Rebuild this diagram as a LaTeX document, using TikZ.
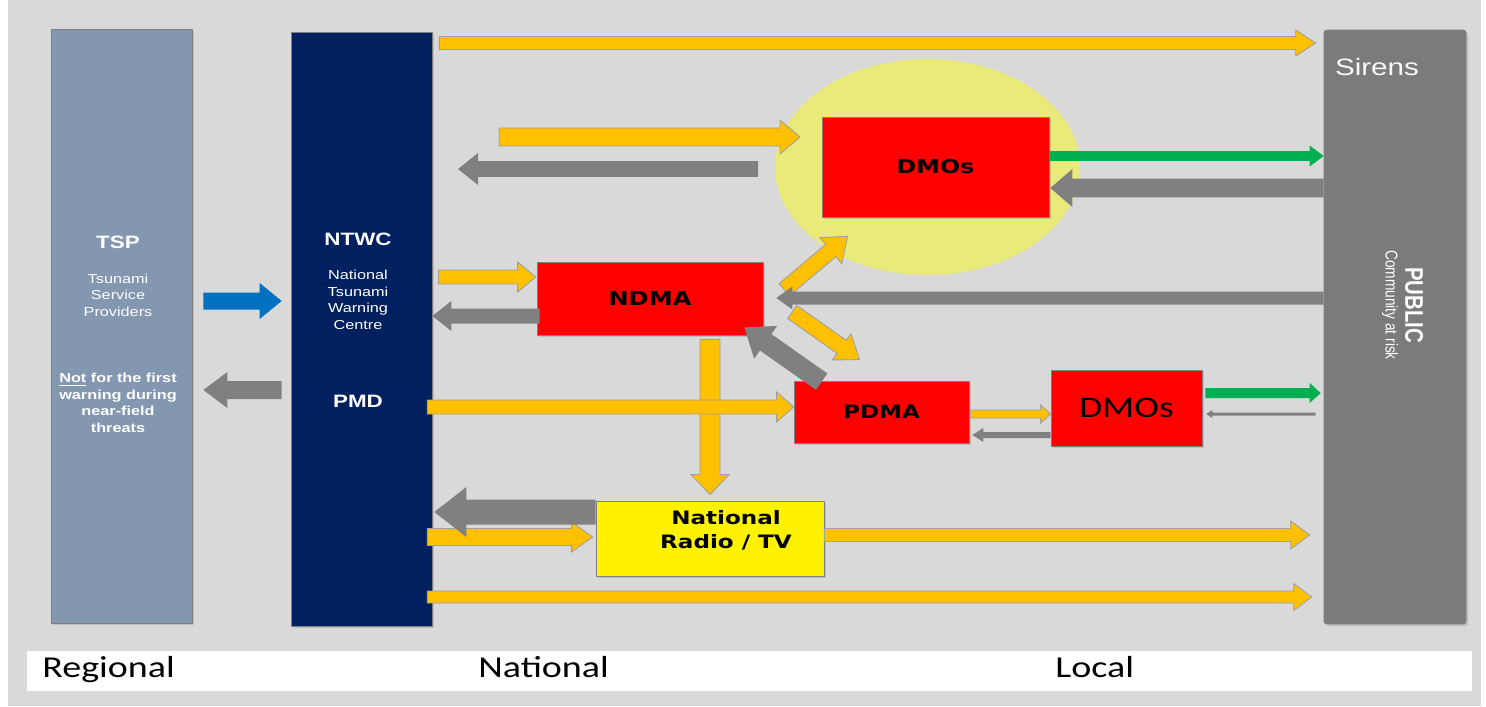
\documentclass[tikz,border=0pt]{standalone}
\usepackage{fontspec}
\setmainfont{Liberation Sans}[FakeStretch=1.25]
\newfontfamily\heavyfont{DejaVu Sans}[FakeStretch=1.25]
\newfontfamily\calfont{Carlito}[FakeStretch=1.25]
\newfontfamily\uprightfont{Liberation Sans}
\usepackage{graphicx}
\usepackage{xcolor}
\usetikzlibrary{calc,shadows}

\definecolor{bggrey}{HTML}{D9D9D9}
\definecolor{tspblue}{HTML}{8497B0}
\definecolor{ntwcblue}{HTML}{002060}
\definecolor{pubgrey}{HTML}{7B7B7B}
\definecolor{halo}{HTML}{EAEA7A}
\definecolor{amber}{HTML}{FFC000}
\definecolor{arrgrey}{HTML}{808080}
\definecolor{leaf}{HTML}{00B050}
\definecolor{sea}{HTML}{0070C0}
\definecolor{edgegrey}{HTML}{A0A0A0}

\tikzset{
  col/.style={draw=gray, line width=0.4pt, inner sep=0pt,
    drop shadow={shadow xshift=1.2pt, shadow yshift=-1.2pt, opacity=0.3}},
  agency/.style={col, fill=red, font=\heavyfont\bfseries\fontsize{11}{13}\selectfont},
  coltitle/.style={text=white, font=\bfseries\fontsize{10.2}{12}\selectfont},
  colsub/.style={text=white, align=center, font=\fontsize{7.4}{9.4}\selectfont},
  colnote/.style={text=white, align=center, font=\bfseries\fontsize{7.4}{9.5}\selectfont},
  scalelbl/.style={anchor=base west, inner sep=0pt, font=\calfont\fontsize{17.3}{20}\selectfont},
  % block arrows: shaft width, head width, head length (px)
  blk/.style n args={3}{to path={
    let \p1=(\tikztostart), \p2=(\tikztotarget),
        \n1={atan2(\y2-\y1,\x2-\x1)},
        \n2={veclen(\x2-\x1,\y2-\y1)} in
    [shift={(\p1)}, rotate=\n1]
    (0pt,{#1*0.2845pt}) -- ({\n2-#3*0.569pt},{#1*0.2845pt})
    -- ({\n2-#3*0.569pt},{#2*0.2845pt}) -- ({\n2},0pt)
    -- ({\n2-#3*0.569pt},{-#2*0.2845pt}) -- ({\n2-#3*0.569pt},{-#1*0.2845pt})
    -- (0pt,{-#1*0.2845pt}) -- cycle}},
  oarr/.style={fill=amber, draw=edgegrey, line width=0.5pt},
  garr/.style={fill=arrgrey},
  lfarr/.style={fill=leaf},
  bluarr/.style={fill=sea},
}

\begin{document}
\begin{tikzpicture}[x=0.02cm, y=-0.02cm]
% Canvas
\useasboundingbox (0,0) rectangle (1486,706);
\fill[white] (0,0) rectangle (1486,706);
\fill[bggrey] (8,0) rectangle (1481,706);

% Columns
\node[col, fill=tspblue, minimum width=2.82cm, minimum height=11.88cm] (tsp) at (121.5,326) {};
\node[col, fill=ntwcblue, minimum width=2.82cm, minimum height=11.88cm] (ntwc) at (361.5,329) {};
\node[col, fill=pubgrey, rounded corners=1.5pt, minimum width=2.84cm, minimum height=11.88cm] (public) at (1395,327) {};

\node[coltitle] (tsptitle) at (118,242) {TSP};
\node[colsub] (tspsub) at (118,295) {Tsunami\\Service\\Providers};
\node[colnote] (tspnote) at (118,403) {\underline{Not} for the first\\warning during\\near-field\\threats};
\node[coltitle] (ntwctitle) at (358,239) {NTWC};
\node[colsub] (ntwcsub) at (358,300) {National\\Tsunami\\Warning\\Centre};
\node[coltitle] (pmd) at (358,401) {PMD};
\node[text=white!95!gray, font=\fontsize{13.5}{16}\selectfont] (sirens) at (1377,67) {Sirens};
\node[rotate=-90, text=white, font=\uprightfont\bfseries\fontsize{11.6}{14}\selectfont] (pubtitle) at (1414,305) {\scalebox{1}[1.25]{PUBLIC}};
\node[rotate=-90, text=white, font=\uprightfont\fontsize{7.8}{9}\selectfont] (pubsub) at (1390,305) {\scalebox{1}[1.25]{Community at risk}};

% Local level
\fill[halo] (927.5,167) ellipse [x radius=152.5, y radius=108];
\node[agency, minimum width=4.54cm, minimum height=2cm, font=\heavyfont\bfseries\fontsize{10.8}{13}\selectfont] (dmos) at (935.5,167) {DMOs};
\node[agency, minimum width=4.52cm, minimum height=1.46cm] (ndma) at (650,298.5) {NDMA};
\node[agency, minimum width=3.5cm, minimum height=1.24cm, font=\heavyfont\bfseries\fontsize{10.5}{13}\selectfont] (pdma) at (881.5,412) {PDMA};
\node[agency, minimum width=3.02cm, minimum height=1.52cm, font=\calfont\fontsize{17}{20}\selectfont] (dmoslocal) at (1126.5,408) {DMOs};
\node[col, fill=yellow, minimum width=4.56cm, minimum height=1.5cm] (radio) at (710,538.5) {};
\node[align=center, font=\heavyfont\bfseries\fontsize{10.5}{13.8}\selectfont] (radiolbl) at (726,530) {National\\Radio / TV};

% Free ends
\coordinate (asktail) at (499,137);
\coordinate (asktip) at (800,137);
\coordinate (backtail) at (758,169);
\coordinate (backtip) at (458,169);

% Orange arrows
\path[oarr, blk={13}{26}{20}] ($(ntwc.east|-0,43)+(7,0)$) to ($(public.west|-0,43)+(-8,0)$);
\path[oarr, blk={18}{34}{20}] (asktail) to (asktip);
\path[oarr, blk={14}{30}{18}] ($(ntwc.east|-0,277)+(6,0)$) to ($(ndma.west|-0,277)+(-1,0)$);
\path[oarr, blk={20}{38}{20}] ($(ndma.south-|710,0)+(0,4)$) to ($(radio.north-|710,0)+(0,-6)$);
\path[oarr, blk={14}{30}{17}] ($(ntwc.east|-0,407)+(-5,0)$) to (pdma.west|-0,407);
\path[oarr, blk={16}{34}{22}] ($(ndma.north east)+(21,28)$) to ($(dmos.south west)+(26,19)$);
\path[oarr, blk={16}{32}{22}] ($(ndma.east)+(29,13.5)$) to ($(pdma.north west)+(66,-21)$);
\path[oarr, blk={8}{18}{10}] ($(pdma.east|-0,414)+(1,0)$) to (dmoslocal.west|-0,414);
\path[oarr, blk={17}{30}{21}] ($(ntwc.east|-0,537)+(-5,0)$) to ($(radio.west|-0,537)+(-3,0)$);
\path[oarr, blk={13}{28}{19}] (radio.east|-0,535) to ($(public.west|-0,535)+(-14,0)$);
\path[oarr, blk={12}{27}{18}] ($(ntwc.east|-0,597)+(-5,0)$) to ($(public.west|-0,597)+(-12,0)$);

% Grey arrows
\path[garr, blk={16}{32}{20}] (backtail) to (backtip);
\path[garr, blk={19}{38}{22}] (public.west|-0,188) to ($(dmos.east|-0,188)+(1,0)$);
\path[garr, blk={13}{23}{16}] (public.west|-0,298) to ($(ndma.east|-0,298)+(13,0)$);
\path[garr, blk={15}{30}{19}] ($(ndma.west|-0,316)+(3,0)$) to (ntwc.east|-0,316);
\path[garr, blk={20}{40}{26}] ($(pdma.north west)+(28,1)$) to ($(ndma.south east)+(-19,-8)$);
\path[garr, blk={6}{14}{11}] (dmoslocal.west|-0,435) to ($(pdma.east|-0,435)+(3,0)$);
\path[garr, blk={3}{8}{6}] ($(public.west|-0,414)+(-8,0)$) to ($(dmoslocal.east|-0,414)+(4,0)$);
\path[garr, blk={25}{50}{32}] (radio.west|-0,512) to ($(ntwc.east|-0,512)+(2,0)$);
\path[garr, blk={18}{36}{24}] ($(ntwc.west|-0,390)+(-9,0)$) to ($(tsp.east|-0,390)+(11,0)$);

% Green and blue arrows
\path[lfarr, blk={10}{21}{14}] (dmos.east|-0,156) to (public.west|-0,156);
\path[lfarr, blk={10}{20}{11}] ($(dmoslocal.east|-0,393)+(3,0)$) to ($(public.west|-0,393)+(-3,0)$);
\path[bluarr, blk={17}{36}{22}] ($(tsp.east|-0,301)+(11,0)$) to ($(ntwc.west|-0,301)+(-9,0)$);

% Levels
\fill[white] (27,651) rectangle (1472,691);
\node[scalelbl] (regional) at (42,677) {Regional};
\node[scalelbl] (national) at (478,677) {National};
\node[scalelbl] (local) at (1055,677) {Local};
\end{tikzpicture}
\end{document}
